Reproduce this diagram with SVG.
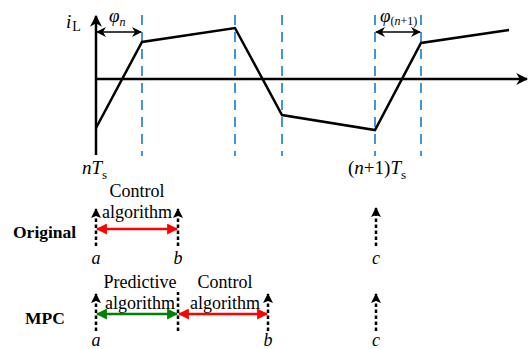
<svg xmlns="http://www.w3.org/2000/svg" width="530" height="349" viewBox="0 0 530 349">
<style>
text{font-family:"Liberation Serif","Times New Roman",serif;fill:#000}
.it{font-style:italic}
.lbl{font-size:18px}
.bold{font-weight:bold;font-size:17.5px}
.blue{stroke:#2F8AD3;stroke-width:1.8;stroke-dasharray:10,7;fill:none}
.ax{stroke:#000;stroke-width:2.5;fill:none}
.wave{stroke:#000;stroke-width:2.5;fill:none;stroke-linejoin:miter}
.bd{stroke:#000;stroke-width:2.5;stroke-dasharray:3.5,2.5;fill:none}
.phi{stroke:#000;stroke-width:1.5;fill:none}
.red{stroke:#FF0000;stroke-width:2.5;fill:none}
.grn{stroke:#008000;stroke-width:2.5;fill:none}
</style>
<defs>
<marker id="ahB" viewBox="0 0 10 10" refX="9" refY="5" markerWidth="10" markerHeight="10" markerUnits="userSpaceOnUse" orient="auto-start-reverse"><path d="M0,0 L10,5 L0,10 L3,5 z" fill="#000"/></marker>
<marker id="ahAx" viewBox="0 0 10 10" refX="9" refY="5" markerWidth="12" markerHeight="12" markerUnits="userSpaceOnUse" orient="auto"><path d="M0,0 L10,5 L0,10 L3,5 z" fill="#000"/></marker>
<marker id="ahR" viewBox="0 0 10 10" refX="9" refY="5" markerWidth="11" markerHeight="11" markerUnits="userSpaceOnUse" orient="auto-start-reverse"><path d="M0,0 L10,5 L0,10 z" fill="#FF0000"/></marker>
<marker id="ahG" viewBox="0 0 10 10" refX="9" refY="5" markerWidth="11" markerHeight="11" markerUnits="userSpaceOnUse" orient="auto-start-reverse"><path d="M0,0 L10,5 L0,10 z" fill="#008000"/></marker>
<marker id="ahK" viewBox="0 0 10 10" refX="9" refY="5" markerWidth="10" markerHeight="10" markerUnits="userSpaceOnUse" orient="auto"><path d="M0,0 L10,5 L0,10 L2,5 z" fill="#000"/></marker>
</defs>

<g id="grid">
<line class="blue" x1="142" y1="15" x2="142" y2="156"/>
<line class="blue" x1="235" y1="15" x2="235" y2="156"/>
<line class="blue" x1="282" y1="15" x2="282" y2="156"/>
<line class="blue" x1="375" y1="15" x2="375" y2="156"/>
<line class="blue" x1="421" y1="15" x2="421" y2="156"/>
</g>

<g id="axes">
<line class="ax" x1="96" y1="155" x2="96" y2="16" marker-end="url(#ahAx)"/>
<line class="ax" x1="96" y1="79" x2="527" y2="79" marker-end="url(#ahAx)"/>
<text x="66" y="28" font-size="19"><tspan class="it">i</tspan><tspan dx="1" dy="3" font-size="14">L</tspan></text>
</g>

<g id="waveform">
<polyline class="wave" points="96,128 142,42 235,28 282,115 375,130 421,43 509,30"/>
</g>

<g id="phi-labels">
<line class="phi" x1="97" y1="32" x2="141" y2="32" marker-start="url(#ahB)" marker-end="url(#ahB)"/>
<text x="109" y="22" class="it" font-size="19">φ<tspan dy="4" font-size="12">n</tspan></text>
<line class="phi" x1="376" y1="32" x2="420" y2="32" marker-start="url(#ahB)" marker-end="url(#ahB)"/>
<text x="380" y="22" font-size="19"><tspan class="it">φ</tspan><tspan dy="3" font-size="12">(<tspan class="it">n</tspan>+1)</tspan></text>
<text x="82" y="174" font-size="19"><tspan class="it">nT</tspan><tspan dy="5" font-size="13">s</tspan></text>
<text x="348" y="174" font-size="19">(<tspan class="it">n</tspan>+1)<tspan class="it">T</tspan><tspan dy="5" font-size="13">s</tspan></text>
</g>

<g id="original">
<text x="13" y="238" class="bold">Original</text>
<text x="137" y="197" class="lbl" text-anchor="middle">Control</text>
<text x="137" y="218" class="lbl" text-anchor="middle">algorithm</text>
<line class="bd" x1="96" y1="246" x2="96" y2="209" marker-end="url(#ahK)"/>
<line class="bd" x1="178" y1="246" x2="178" y2="209" marker-end="url(#ahK)"/>
<line class="red" x1="97" y1="229" x2="177" y2="229" marker-start="url(#ahR)" marker-end="url(#ahR)"/>
<text x="96" y="264" class="it lbl" text-anchor="middle">a</text>
<text x="178" y="264" class="it lbl" text-anchor="middle">b</text>
<line class="bd" x1="376" y1="246" x2="376" y2="208" marker-end="url(#ahK)"/>
<text x="376" y="264" class="it lbl" text-anchor="middle">c</text>
</g>

<g id="mpc">
<text x="25" y="324" class="bold">MPC</text>
<text x="140" y="288" class="lbl" text-anchor="middle">Predictive</text>
<text x="140" y="309" class="lbl" text-anchor="middle">algorithm</text>
<text x="225" y="288" class="lbl" text-anchor="middle">Control</text>
<text x="225" y="309" class="lbl" text-anchor="middle">algorithm</text>
<line class="bd" x1="96" y1="331" x2="96" y2="294" marker-end="url(#ahK)"/>
<line class="bd" x1="178" y1="331" x2="178" y2="292"/>
<line class="bd" x1="268" y1="331" x2="268" y2="294" marker-end="url(#ahK)"/>
<line class="grn" x1="97" y1="314" x2="177" y2="314" marker-start="url(#ahG)" marker-end="url(#ahG)"/>
<line class="red" x1="179" y1="314" x2="267" y2="314" marker-start="url(#ahR)" marker-end="url(#ahR)"/>
<text x="96" y="346" class="it lbl" text-anchor="middle">a</text>
<text x="268" y="346" class="it lbl" text-anchor="middle">b</text>
<line class="bd" x1="376" y1="331" x2="376" y2="294" marker-end="url(#ahK)"/>
<text x="376" y="346" class="it lbl" text-anchor="middle">c</text>
</g>
</svg>
